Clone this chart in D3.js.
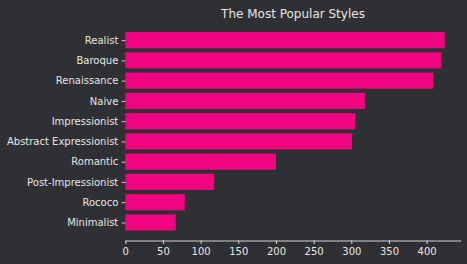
<!DOCTYPE html>
<html>
<head>
<meta charset="utf-8">
<script src="https://cdn.jsdelivr.net/npm/d3@7"></script>
<style>
html,body{margin:0;padding:0;background:#2f3033;}
svg{display:block;}
</style>
</head>
<body>
<svg id="chart" width="467" height="264"></svg>
<script>
const categories = ["Realist","Baroque","Renaissance","Naive","Impressionist","Abstract Expressionist","Romantic","Post-Impressionist","Rococo","Minimalist"];
const counts = [424, 419, 409, 318, 305, 301, 200, 118, 79, 67];
const xTicks = [0, 50, 100, 150, 200, 250, 300, 350, 400];
const title = "The Most Popular Styles";

const W = 467, H = 264;
const margin = {left: 125.3, right: 6.3, top: 22.1, bottom: 23.5};
const svg = d3.select("#chart");
svg.append("rect").attr("width", W).attr("height", H).attr("fill", "#2f3033");

const xMax = d3.max(counts) * 1.05;
const x = d3.scaleLinear().domain([0, xMax]).range([margin.left, W - margin.right]);
const n = categories.length;
const y = d3.scaleLinear().domain([-0.89, n - 1 + 0.89]).range([margin.top, H - margin.bottom]);
const bh = y(0.4) - y(-0.4);

svg.append("g").selectAll("rect").data(categories).join("rect")
  .attr("x", x(0))
  .attr("y", (d, i) => y(i - 0.4))
  .attr("width", (d, i) => x(counts[i]) - x(0))
  .attr("height", bh)
  .attr("fill", "#f0047f");

const textColor = "#e6e6e6";
const font = "DejaVu Sans, sans-serif";

// x axis
const xAxis = d3.axisBottom(x).tickValues(xTicks).tickSize(3.5).tickPadding(3.5).tickSizeOuter(0);
const gx = svg.append("g").attr("transform", `translate(0,${H - margin.bottom})`).call(xAxis);
gx.select(".domain").attr("stroke", textColor).attr("stroke-width", 0.9);
gx.selectAll(".tick line").attr("stroke", textColor).attr("stroke-width", 0.9);
gx.selectAll(".tick text").attr("fill", textColor).attr("font-family", font).attr("font-size", 10);

// y axis
const yBand = d3.scaleOrdinal().domain(categories).range(categories.map((c, i) => y(i)));
const yAxis = d3.axisLeft(yBand).tickSize(3.5).tickPadding(3.5);
const gy = svg.append("g").attr("transform", `translate(${margin.left},0)`).call(yAxis);
gy.select(".domain").remove();
gy.selectAll(".tick line").attr("stroke", textColor).attr("stroke-width", 0.9);
gy.selectAll(".tick text").attr("fill", textColor).attr("font-family", font).attr("font-size", 10);

svg.append("text")
  .attr("x", (margin.left + W - margin.right) / 2)
  .attr("y", 17.5)
  .attr("text-anchor", "middle")
  .attr("fill", textColor)
  .attr("font-family", font)
  .attr("font-size", 12)
  .text(title);
</script>
</body>
</html>
